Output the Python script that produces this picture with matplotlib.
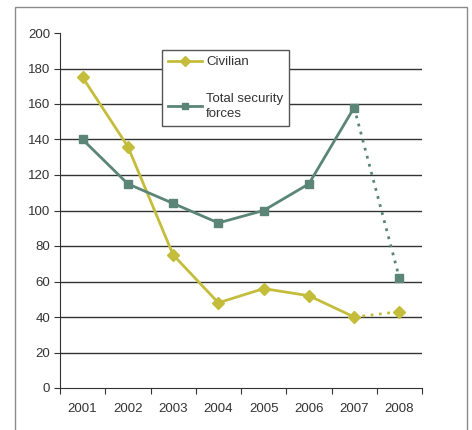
import matplotlib.pyplot as plt
from matplotlib.lines import Line2D
from matplotlib.patches import Rectangle

years = ["2001", "2002", "2003", "2004", "2005", "2006", "2007", "2008"]
civilian = [175, 136, 75, 48, 56, 52, 40, 43]
security = [140, 115, 104, 93, 100, 115, 158, 62]

CIV_COLOR = "#c4bd3c"
SEC_COLOR = "#5b8576"

plt.rcParams["font.family"] = ["Liberation Sans", "DejaVu Sans"]

fig = plt.figure(figsize=(4.72, 4.30), dpi=100)
fig.patch.set_facecolor("white")

# outer frame
fig.patches.append(Rectangle((15 / 472, -0.02), 452 / 472, (430 - 7) / 430 + 0.02,
                             transform=fig.transFigure, fill=False,
                             edgecolor="#8a8a8a", linewidth=1.0))

ax = fig.add_axes([60 / 472, 42 / 430, 362 / 472, 355 / 430])
x = list(range(len(years)))

# solid part (2001-2007), dotted last segment (2007-2008)
ax.plot(x[:-1], civilian[:-1], color=CIV_COLOR, lw=2, marker="D", ms=6, zorder=3)
ax.plot(x[-2:], civilian[-2:], color=CIV_COLOR, lw=2, ls=(0, (1, 2)), zorder=3)
ax.plot(x[-1], civilian[-1], color=CIV_COLOR, marker="D", ms=6, zorder=3)

ax.plot(x[:-1], security[:-1], color=SEC_COLOR, lw=2, marker="s", ms=6, zorder=3)
ax.plot(x[-2:], security[-2:], color=SEC_COLOR, lw=2, ls=(0, (1, 2)), zorder=3)
ax.plot(x[-1], security[-1], color=SEC_COLOR, marker="s", ms=6, zorder=3)

ax.set_xlim(-0.5, len(years) - 0.5)
ax.set_ylim(0, 200)
ax.set_yticks(range(0, 201, 20))
ax.set_xticks([i - 0.5 for i in range(len(years) + 1)])
ax.set_xticklabels([])
ax.set_xticks(x, minor=True)
ax.set_xticklabels(years, minor=True)
ax.tick_params(axis="x", which="minor", length=0, pad=11, labelsize=9.5, colors="#333333")
ax.tick_params(axis="x", which="major", length=4, direction="out", color="#333333")
ax.tick_params(axis="y", length=4, direction="out", color="#333333", labelsize=9.5,
               labelcolor="#333333", pad=3)

for v in range(20, 200, 20):
    ax.axhline(v, color="#333333", lw=1, zorder=1)

for s in ["top", "right"]:
    ax.spines[s].set_visible(False)
for s in ["left", "bottom"]:
    ax.spines[s].set_color("#333333")

handles = [
    Line2D([], [], color=CIV_COLOR, lw=2, marker="D", ms=5),
    Line2D([], [], color=SEC_COLOR, lw=2, marker="s", ms=5),
]
leg = ax.legend(handles, ["Civilian", "Total security\nforces"],
                loc="upper left", bbox_to_anchor=(162 / 472, 1 - 50 / 430),
                bbox_transform=fig.transFigure, frameon=True, fancybox=False,
                edgecolor="#555555", framealpha=1, fontsize=9.5,
                labelspacing=1.9, handlelength=2.6, handletextpad=0.3,
                borderpad=0.45, borderaxespad=0)
for t in leg.get_texts():
    t.set_linespacing(1.3)
    t.set_color("#333333")
leg.get_frame().set_linewidth(1.0)
leg.set_zorder(5)

fig.savefig("out.png", dpi=100)
